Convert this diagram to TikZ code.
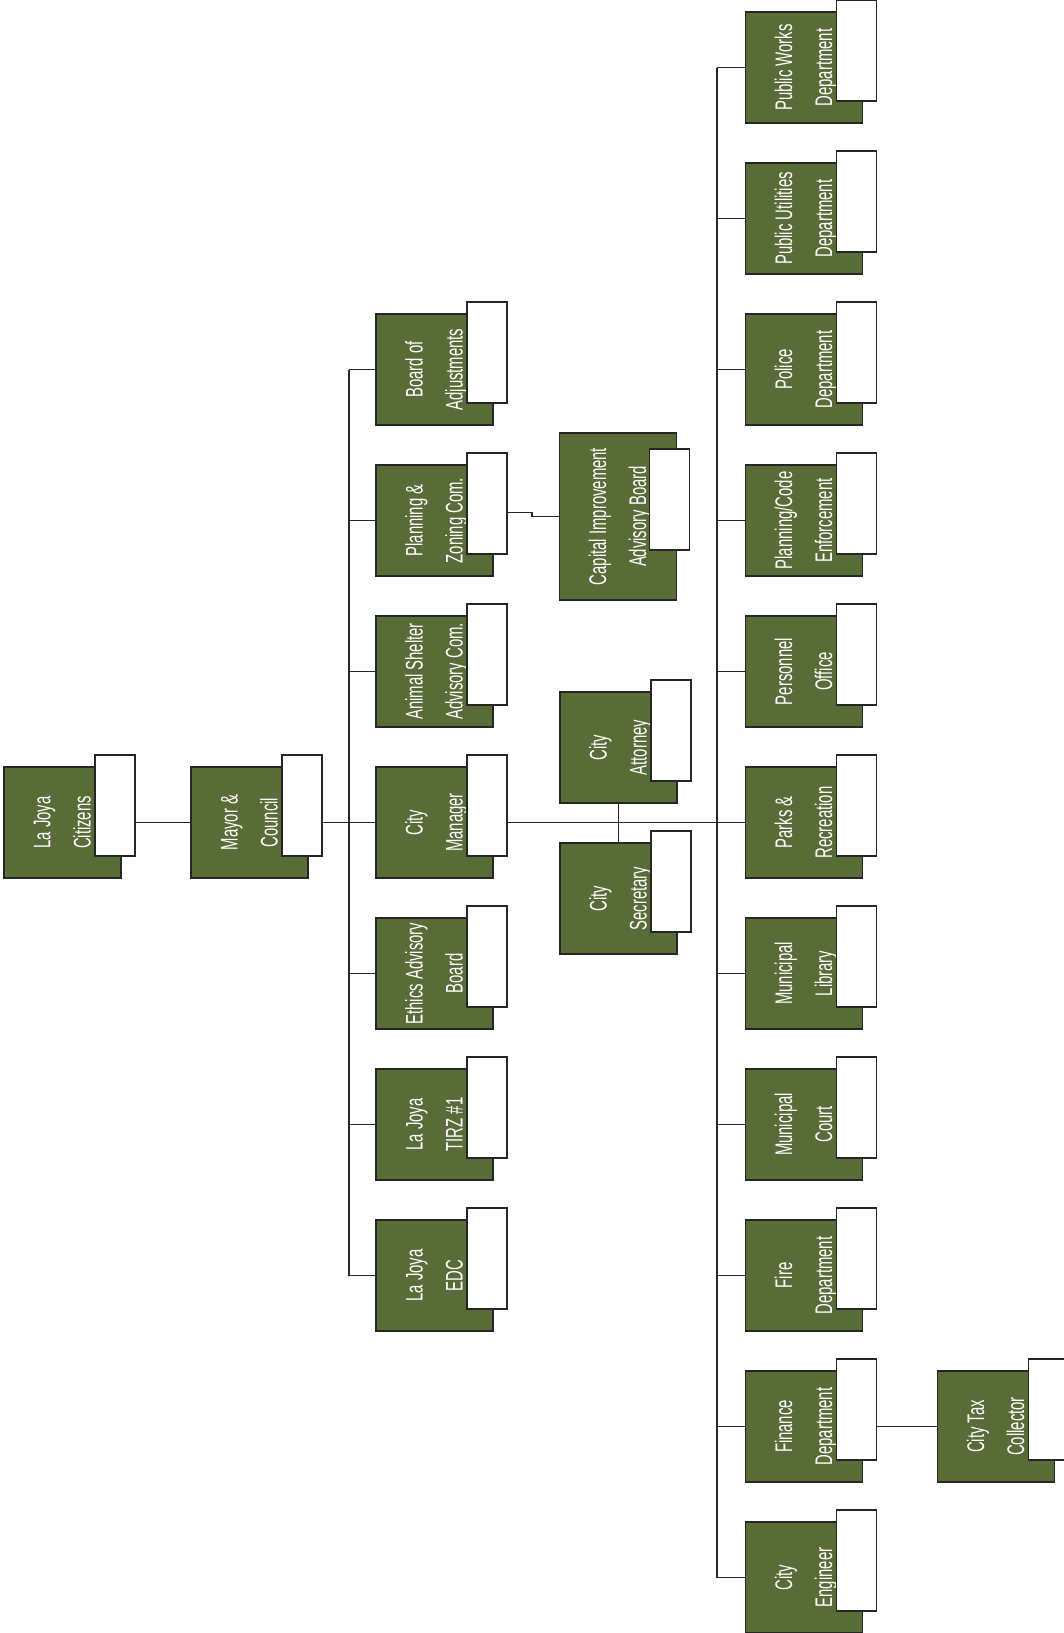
\documentclass[tikz,border=0pt]{standalone}
\usepackage{fontspec}
\usepackage{graphicx}
\usepackage{tikz}
\usetikzlibrary{positioning,backgrounds}
\newfontfamily\deptfont[FakeStretch=0.62]{Liberation Sans}
\definecolor{joyagreen}{RGB}{88,108,56}
\newcommand{\vlabel}[1]{\rotatebox{90}{\begin{tabular}{@{}c@{}}#1\end{tabular}}\hspace{20pt}}
\tikzset{
  box/.style={rectangle, draw=black!85, line width=1.6pt, fill=joyagreen, minimum width=117pt,
              minimum height=111pt, inner sep=0pt, text=white,
              font=\deptfont\fontsize{24pt}{40pt}\selectfont},
  tag/.style={rectangle, draw=black!85, line width=1.6pt, fill=white, minimum width=40pt,
              minimum height=101pt, inner sep=0pt},
  dept/.style={box, append after command={node[tag, anchor=north east, name=\tikzlastnode-t]
               at ([shift={(14pt,12pt)}]\tikzlastnode.north east) {}}},
  bigdept/.style={box, minimum height=167pt, append after command={node[tag, anchor=north east,
               name=\tikzlastnode-t] at ([shift={(13pt,-16pt)}]\tikzlastnode.north east) {}}},
  link/.style={line width=1.6pt, black!85}
}
\begin{document}
\begin{tikzpicture}[x=1pt, y=-1pt, node distance=38.4pt]
        \useasboundingbox (0,0) rectangle (1064,1633);
        % citizens and council
        \node[dept] (cit) at (62.5,822.5) {\vlabel{La Joya\\Citizens}};
        \node[dept, right=68.4pt of cit] (mayor) {\vlabel{Mayor \&\\Council}};
        % boards and commissions
        \node[dept] (board) at (434.5,369.5) {\vlabel{Board of\\Adjustments}};
        \node[dept, below=of board] (pz) {\vlabel{Planning \&\\Zoning Com.}};
        \node[dept, below=of pz] (animal) {\vlabel{Animal Shelter\\Advisory Com.}};
        \node[dept, below=of animal] (mgr) {\vlabel{City\\Manager}};
        \node[dept, below=of mgr] (ethics) {\vlabel{Ethics Advisory\\Board}};
        \node[dept, below=of ethics] (tirz) {\vlabel{La Joya\\TIRZ \#1}};
        \node[dept, below=of tirz] (edc) {\vlabel{La Joya\\EDC}};
        % middle column
        \node[bigdept] (cap) at (618,516.5) {\vlabel{Capital Improvement\\Advisory Board}};
        \node[dept] (att) at (618.5,747.5) {\vlabel{City\\Attorney}};
        \node[dept, below=of att] (sec) {\vlabel{City\\Secretary}};
        % departments
        \node[dept] (pw) at (804,67.5) {\vlabel{Public Works\\Department}};
        \node[dept, below=of pw] (pu) {\vlabel{Public Utilities\\Department}};
        \node[dept, below=of pu] (police) {\vlabel{Police\\Department}};
        \node[dept, below=of police] (code) {\vlabel{Planning/Code\\Enforcement}};
        \node[dept, below=of code] (pers) {\vlabel{Personnel\\Office}};
        \node[dept, below=of pers] (parks) {\vlabel{Parks \&\\Recreation}};
        \node[dept, below=of parks] (lib) {\vlabel{Municipal\\Library}};
        \node[dept, below=of lib] (court) {\vlabel{Municipal\\Court}};
        \node[dept, below=of court] (fire) {\vlabel{Fire\\Department}};
        \node[dept, below=of fire] (fin) {\vlabel{Finance\\Department}};
        \node[dept, below=of fin] (eng) {\vlabel{City\\Engineer}};
        \node[dept, right=73.4pt of fin] (tax) {\vlabel{City Tax\\Collector}};
        % connectors
        \coordinate (busL) at (349,0);
        \coordinate (busR) at (717,0);
        \coordinate (jog) at (532,516.5);
        \begin{scope}[on background layer]
          \draw[link] (cit) -- (mayor) -- (mgr) -- (parks);
          \draw[link] (board -| busL) -- (edc -| busL);
          \draw[link] (board -| busL) -- (board); \draw[link] (pz -| busL) -- (pz);
          \draw[link] (animal -| busL) -- (animal); \draw[link] (ethics -| busL) -- (ethics);
          \draw[link] (tirz -| busL) -- (tirz); \draw[link] (edc -| busL) -- (edc);
          \draw[link] ([yshift=8pt]pz.center) -| (jog) -- (cap);
          \draw[link] (att) -- (sec);
          \draw[link] (pw -| busR) -- (eng -| busR);
          \draw[link] (pw -| busR) -- (pw); \draw[link] (pu -| busR) -- (pu);
          \draw[link] (police -| busR) -- (police); \draw[link] (code -| busR) -- (code);
          \draw[link] (pers -| busR) -- (pers); \draw[link] (lib -| busR) -- (lib);
          \draw[link] (court -| busR) -- (court); \draw[link] (fire -| busR) -- (fire);
          \draw[link] (fin -| busR) -- (fin); \draw[link] (eng -| busR) -- (eng);
          \draw[link] (fin) -- (tax);
        \end{scope}
      \end{tikzpicture}
\end{document}
